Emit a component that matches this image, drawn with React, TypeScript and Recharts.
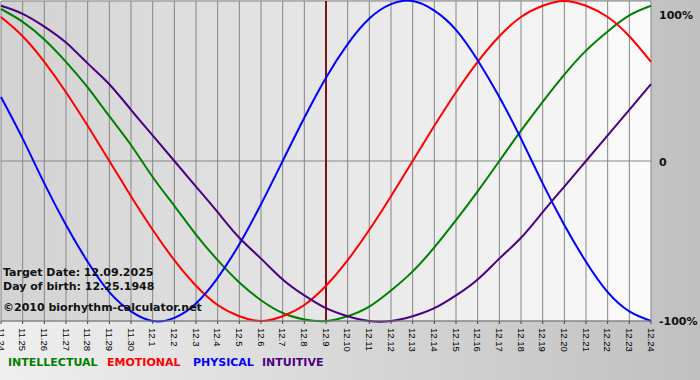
import React from 'react';
import { CartesianGrid, Line, LineChart, ReferenceLine, XAxis, YAxis } from 'recharts';

const days = [
  '11.24', '11.25', '11.26', '11.27', '11.28', '11.29', '11.30',
  '12.1', '12.2', '12.3', '12.4', '12.5', '12.6', '12.7', '12.8', '12.9', '12.10',
  '12.11', '12.12', '12.13', '12.14', '12.15', '12.16', '12.17', '12.18', '12.19',
  '12.20', '12.21', '12.22', '12.23', '12.24',
];
const intellectual = [95, 87, 76, 62, 46, 28, 10, -10, -28, -46, -62, -76, -87, -95, -99, -100, -97, -91, -81, -69, -54, -37, -19, 0, 19, 37, 54, 69, 81, 91, 97];
const emotional = [90, 78, 62, 43, 22, 0, -22, -43, -62, -78, -90, -97, -100, -97, -90, -78, -62, -43, -22, 0, 22, 43, 62, 78, 90, 97, 100, 97, 90, 78, 62];
const physical = [40, 14, -14, -40, -63, -82, -94, -100, -98, -89, -73, -52, -27, 0, 27, 52, 73, 89, 98, 100, 94, 82, 63, 40, 14, -14, -40, -63, -82, -94, -100];
const intuitive = [97, 92, 84, 74, 61, 48, 32, 16, 0, -16, -32, -48, -61, -74, -84, -92, -97, -100, -100, -97, -92, -84, -74, -61, -48, -32, -16, 0, 16, 32, 48];

const yTicks = [-100, 0, 100];
const yTickLabels: Record<number, string> = { '-100': '-100%', 0: '0', 100: '100%' };
const targetDay = '12.9';

const legendItems = [
  { label: 'INTELLECTUAL', color: '#008000', x: 8 },
  { label: 'EMOTIONAL', color: '#ff0000', x: 107 },
  { label: 'PHYSICAL', color: '#0000ff', x: 193 },
  { label: 'INTUITIVE', color: '#4b0082', x: 262 },
];

const data = days.map((day, i) => ({
  day,
  intellectual: intellectual[i],
  emotional: emotional[i],
  physical: physical[i],
  intuitive: intuitive[i],
}));

const DayTick = ({ x, payload }: any) => {
  return (
    <text
      x={x}
      y={328}
      transform={`rotate(90, ${x}, 328)`}
      dy="0.35em"
      textAnchor="start"
      fontFamily="Liberation Sans, Arial, sans-serif"
      fontSize={9.5}
      fill="#000"
    >
      {payload.value}
    </text>
  );
};

const PercentTick = ({ y, payload }: any) => {
  const dy = payload.value === 100 ? 10 : payload.value === 0 ? 5 : 4;
  return (
    <text x={659} y={y + dy} fontFamily="DejaVu Sans, Verdana, sans-serif" fontWeight="bold" fontSize={11} fill="#111">
      {yTickLabels[payload.value]}
    </text>
  );
};

export default function App() {
  const textStyle = { fontFamily: 'DejaVu Sans, Verdana, sans-serif', fontWeight: 'bold' as const, fontSize: 11 };

  return (
    <div style={{ position: 'absolute', left: 0, top: 0, width: 700, height: 380, background: 'linear-gradient(to right, #efefef, #c0c0c0)' }}>
      <LineChart width={700} height={380} data={data} margin={{ top: 1, right: 0, left: 1, bottom: 0 }}>
        <defs>
          <linearGradient id="plotBg" x1="0" y1="0" x2="1" y2="0">
            <stop offset="0%" stopColor="#d2d2d2" />
            <stop offset="100%" stopColor="#fbfbfb" />
          </linearGradient>
        </defs>
        <CartesianGrid stroke="#858585" fill="url(#plotBg)" />
        <XAxis
          dataKey="day"
          interval={0}
          height={59}
          tickSize={3}
          tick={<DayTick />}
          axisLine={{ stroke: '#858585' }}
          tickLine={{ stroke: '#444' }}
        />
        <YAxis
          orientation="right"
          width={49}
          domain={[-100, 100]}
          ticks={yTicks}
          axisLine={false}
          tickLine={false}
          tick={<PercentTick />}
        />
        <ReferenceLine x={targetDay} stroke="#7b1515" strokeWidth={2} />
        <Line type="natural" dataKey="intellectual" stroke="#008000" strokeWidth={2} dot={false} isAnimationActive={false} />
        <Line type="natural" dataKey="emotional" stroke="#ff0000" strokeWidth={2} dot={false} isAnimationActive={false} />
        <Line type="natural" dataKey="physical" stroke="#0000ff" strokeWidth={2} dot={false} isAnimationActive={false} />
        <Line type="natural" dataKey="intuitive" stroke="#4b0082" strokeWidth={2} dot={false} isAnimationActive={false} />
      </LineChart>
      <svg width={700} height={380} style={{ position: 'absolute', left: 0, top: 0, pointerEvents: 'none' }}>
        <text x={3} y={276} fill="#111" {...textStyle}>Target Date: 12.09.2025</text>
        <text x={3} y={290} fill="#111" {...textStyle}>Day of birth: 12.25.1948</text>
        <text x={3} y={311} fill="#111" {...textStyle}>©2010 biorhythm-calculator.net</text>
        {legendItems.map((item) => (
          <text key={item.label} x={item.x} y={366} fill={item.color} {...textStyle}>{item.label}</text>
        ))}
      </svg>
    </div>
  );
}
